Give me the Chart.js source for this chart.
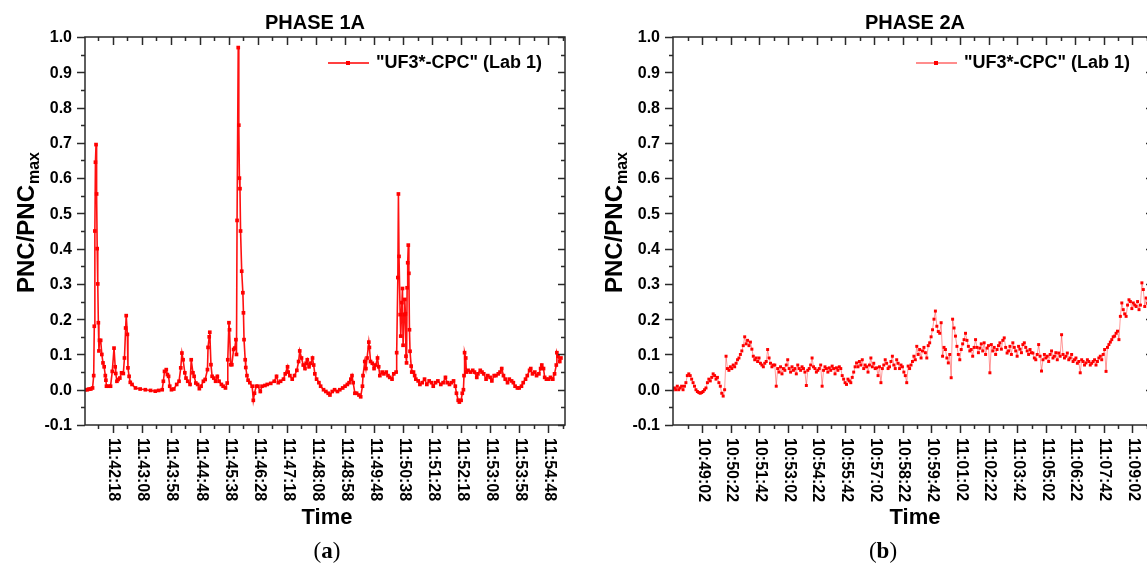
<!DOCTYPE html>
<html>
<head>
<meta charset="utf-8">
<script src="https://cdn.jsdelivr.net/npm/chart.js@4.4.1/dist/chart.umd.min.js"></script>
<style>
  html, body { margin: 0; padding: 0; background: #fff; overflow: hidden; width: 1147px; height: 566px; }
  canvas { position: absolute; top: 0; }
  #phase1 { left: 0; }
  #phase2 { left: 588px; }
  .cap { position: absolute; top: 538px; width: 60px; text-align: center; line-height: 26px;
         font-family: "Liberation Serif", "DejaVu Serif", serif; font-size: 23px; color: #000; }
</style>
</head>
<body>
<canvas id="phase1" width="580" height="566"></canvas>
<canvas id="phase2" width="580" height="566"></canvas>
<div class="cap" style="left:297px">(<b>a</b>)</div>
<div class="cap" style="left:853px">(<b>b</b>)</div>
<script>
// y axis, shared by both panels
const yTickValues = [-0.1, 0.0, 0.1, 0.2, 0.3, 0.4, 0.5, 0.6, 0.7, 0.8, 0.9, 1.0];
const yTickLabels = ['-0.1', '0.0', '0.1', '0.2', '0.3', '0.4', '0.5', '0.6', '0.7', '0.8', '0.9', '1.0'];

// PHASE 1A: seconds after leftStart, and normalised PNC
const leftStart = '11:41:30';
const leftEnd = '11:55:17';
const leftTicks = ['11:42:18', '11:43:08', '11:43:58', '11:44:48', '11:45:38', '11:46:28', '11:47:18', '11:48:08',
  '11:48:58', '11:49:48', '11:50:38', '11:51:28', '11:52:18', '11:53:08', '11:53:58', '11:54:48'];
const leftTime = [
  1, 4, 7, 10, 13, 15, 16, 17, 18, 19,
  20, 21, 22, 23, 24, 25, 27, 29, 31, 33,
  35, 36, 37, 40, 44, 47, 50, 52, 53, 55,
  57, 60, 63, 66, 68, 70, 71, 73, 74, 76,
  78, 81, 87, 95, 104, 113, 121, 127, 133, 135,
  137, 140, 142, 144, 146, 149, 153, 158, 162, 165,
  167, 169, 172, 174, 177, 181, 183, 186, 188, 191,
  194, 197, 200, 204, 207, 211, 212, 214, 215, 217,
  219, 222, 225, 228, 231, 235, 238, 242, 245, 246,
  248, 249, 251, 253, 256, 258, 260, 261, 262, 264,
  265, 266, 267, 268, 270, 272, 273, 274, 276, 277,
  279, 281, 284, 288, 290, 292, 295, 298, 302, 305,
  310, 314, 320, 326, 330, 333, 337, 342, 345, 349,
  350, 353, 357, 361, 365, 368, 370, 373, 376, 379,
  381, 383, 386, 389, 392, 394, 396, 399, 403, 406,
  411, 415, 419, 422, 426, 430, 435, 439, 444, 448,
  452, 455, 458, 460, 462, 465, 468, 472, 475, 478,
  479, 482, 484, 486, 489, 490, 492, 495, 498, 501,
  504, 506, 508, 512, 515, 519, 522, 525, 529, 532,
  536, 537, 539, 540, 541, 543, 544, 546, 547, 548,
  550, 551, 552, 553, 554, 555, 556, 557, 558, 559,
  560, 562, 563, 566, 568, 570, 574, 577, 581, 585,
  589, 593, 597, 600, 604, 608, 613, 617, 621, 624,
  628, 631, 635, 638, 640, 643, 645, 648, 650, 652,
  653, 654, 656, 657, 660, 664, 668, 671, 675, 677,
  681, 684, 687, 691, 694, 698, 701, 705, 708, 712,
  715, 718, 721, 724, 728, 731, 735, 738, 741, 745,
  748, 752, 755, 759, 762, 766, 768, 771, 775, 778,
  782, 785, 787, 790, 792, 795, 799, 802, 806, 809,
  812, 813, 815, 818, 820
];
const leftPnc = [
  0, 0, 0.002, 0.002, 0.005, 0.04, 0.18, 0.45, 0.645, 0.695,
  0.555, 0.40, 0.30, 0.19, 0.11, 0.14, 0.14, 0.10, 0.076, 0.065,
  0.04, 0.027, 0.01, 0.01, 0.01, 0.052, 0.118, 0.065, 0.046, 0.024,
  0.029, 0.033, 0.048, 0.046, 0.09, 0.175, 0.21, 0.157, 0.062, 0.038,
  0.021, 0.015, 0.005, 0.002, 0, -0.002, -0.004, -0.002, 0, 0.024,
  0.052, 0.057, 0.043, 0.038, 0.01, 0, 0.002, 0.015, 0.024, 0.062,
  0.104, 0.085, 0.048, 0.033, 0.024, 0.015, 0.085, 0.048, 0.038, 0.019,
  0.015, 0.003, 0.01, 0.024, 0.029, 0.057, 0.12, 0.15, 0.163, 0.071,
  0.038, 0.033, 0.024, 0.038, 0.024, 0.015, 0.01, 0.005, 0.019, 0.085,
  0.19, 0.17, 0.071, 0.071, 0.114, 0.118, 0.142, 0.10, 0.48, 0.97,
  0.75, 0.60, 0.57, 0.45, 0.336, 0.275, 0.218, 0.142, 0.085, 0.063,
  0.04, 0.027, 0.02, 0.01, -0.03, -0.01, 0.01, 0.01, -0.005, 0.01,
  0.012, 0.015, 0.018, 0.024, 0.038, 0.02, 0.024, 0.03, 0.045, 0.065,
  0.05, 0.04, 0.03, 0.04, 0.055, 0.08, 0.11, 0.09, 0.07, 0.06,
  0.075, 0.085, 0.065, 0.075, 0.09, 0.07, 0.045, 0.03, 0.02, 0.01,
  0, -0.005, -0.01, -0.015, -0.005, 0, -0.005, 0, 0.005, 0.01,
  0.015, 0.02, 0.03, 0.04, 0.02, -0.01, -0.01, -0.015, -0.02, 0.01,
  0.04, 0.08, 0.06, 0.09, 0.135, 0.12, 0.08, 0.075, 0.06, 0.07,
  0.09, 0.065, 0.04, 0.05, 0.045, 0.05, 0.04, 0.035, 0.03, 0.045,
  0.05, 0.105, 0.318, 0.555, 0.378, 0.213, 0.152, 0.247, 0.287, 0.126,
  0.213, 0.256, 0.215, 0.095, 0.076, 0.289, 0.36, 0.41, 0.33, 0.17,
  0.109, 0.067, 0.05, 0.05, 0.04, 0.03, 0.025, 0.015, 0.02, 0.03,
  0.015, 0.025, 0.02, 0.01, 0.02, 0.025, 0.015, 0.02, 0.035, 0.02,
  0.015, 0.02, 0.025, 0.01, -0.01, -0.03, -0.035, -0.03, -0.01, 0,
  0.04, 0.105, 0.09, 0.05, 0.055, 0.05, 0.055, 0.05, 0.035, 0.045,
  0.055, 0.05, 0.045, 0.03, 0.04, 0.035, 0.025, 0.04, 0.04, 0.045,
  0.05, 0.06, 0.04, 0.03, 0.02, 0.03, 0.025, 0.02, 0.01, 0.005,
  0.005, 0.01, 0.02, 0.03, 0.04, 0.055, 0.06, 0.045, 0.05, 0.04,
  0.045, 0.06, 0.07, 0.06, 0.035, 0.03, 0.03, 0.035, 0.03, 0.045,
  0.07, 0.105, 0.095, 0.08, 0.09
];

// PHASE 2A: one reading every rightStep seconds from rightStart
const rightStart = '10:47:41';
const rightEnd = '11:10:00';
const rightStep = 4;
const rightTicks = ['10:49:02', '10:50:22', '10:51:42', '10:53:02', '10:54:22', '10:55:42', '10:57:02', '10:58:22',
  '10:59:42', '11:01:02', '11:02:22', '11:03:42', '11:05:02', '11:06:22', '11:07:42', '11:09:02'];
const rightPnc = [
  0.0, 0.005, 0.0, 0.01, 0.0, 0.005, 0.01, 0.0, 0.01, 0.02, 0.04,
  0.045, 0.04, 0.03, 0.02, 0.01,
  0.0, -0.005, -0.008, -0.01, -0.008, -0.005, 0.0, 0.005,
  0.02, 0.03, 0.025, 0.035, 0.045, 0.04, 0.03, 0.035, 0.02, 0.01,
  -0.01, -0.018, 0.0,
  0.095, 0.06, 0.055, 0.065, 0.06, 0.07, 0.065, 0.075, 0.085,
  0.09, 0.1, 0.11, 0.125, 0.15, 0.13, 0.14, 0.125, 0.135, 0.115,
  0.095, 0.085, 0.09, 0.08, 0.09, 0.075, 0.07, 0.065, 0.075, 0.08, 0.114, 0.09, 0.075, 0.065, 0.07,
  0.07, 0.01, 0.06, 0.05, 0.065, 0.045, 0.06, 0.055, 0.07, 0.085,
  0.06, 0.05, 0.065, 0.055, 0.06, 0.045, 0.07, 0.06, 0.055, 0.065,
  0.06, 0.05, 0.012, 0.055, 0.06, 0.07, 0.09, 0.065, 0.06, 0.05,
  0.055, 0.06, 0.07, 0.01, 0.055,
  0.065, 0.06, 0.05, 0.062, 0.055, 0.067, 0.06, 0.045, 0.062, 0.055,
  0.065, 0.06, 0.04, 0.03, 0.02, 0.015, 0.03, 0.025, 0.02, 0.035, 0.05, 0.065,
  0.076, 0.065, 0.08, 0.07, 0.085, 0.06, 0.07, 0.065, 0.05, 0.07,
  0.09, 0.065, 0.075, 0.06, 0.062, 0.04, 0.065, 0.02, 0.06, 0.07,
  0.085, 0.075, 0.06, 0.065, 0.08, 0.095, 0.07, 0.06, 0.085, 0.075, 0.06, 0.07,
  0.065, 0.05, 0.04, 0.02, 0.067, 0.06, 0.07, 0.08, 0.095, 0.085,
  0.123, 0.1, 0.114, 0.09, 0.11, 0.12, 0.105, 0.09, 0.125, 0.133,
  0.15, 0.17, 0.2, 0.223, 0.18, 0.165, 0.16, 0.19, 0.095, 0.12, 0.114, 0.09, 0.076, 0.1, 0.034,
  0.2, 0.175, 0.152, 0.123, 0.1, 0.085, 0.114, 0.13, 0.142, 0.16, 0.14, 0.123, 0.11, 0.114, 0.095, 0.12,
  0.142, 0.12, 0.105, 0.118, 0.13, 0.11, 0.133, 0.1, 0.118, 0.125,
  0.048, 0.128, 0.11, 0.12, 0.1, 0.114, 0.125, 0.133, 0.115, 0.14,
  0.147, 0.12, 0.104, 0.11, 0.123, 0.1, 0.133, 0.12, 0.11, 0.095,
  0.123, 0.115, 0.105, 0.128, 0.133, 0.12, 0.11, 0.1, 0.114, 0.105,
  0.104, 0.09, 0.085, 0.1, 0.128, 0.095, 0.053, 0.085, 0.1, 0.09,
  0.095, 0.08, 0.1, 0.11, 0.09, 0.095, 0.105, 0.085, 0.104, 0.095,
  0.156, 0.1, 0.09, 0.095, 0.104, 0.085, 0.09, 0.1, 0.08, 0.085,
  0.09, 0.075, 0.08, 0.048, 0.085, 0.08, 0.07, 0.076, 0.085, 0.08,
  0.07, 0.075, 0.08, 0.085, 0.07, 0.08, 0.09, 0.095, 0.085, 0.1,
  0.114, 0.052, 0.12, 0.128, 0.135, 0.142, 0.15, 0.152, 0.16, 0.166, 0.142, 0.208,
  0.246, 0.227, 0.215, 0.208, 0.24, 0.255, 0.25, 0.23, 0.246, 0.24,
  0.236, 0.25, 0.227, 0.24, 0.303, 0.284, 0.236, 0.26, 0.245, 0.236, 0.25
];
const rightTime = rightPnc.map((v, i) => i * rightStep);

const FONT = '"Liberation Sans", Arial, sans-serif';

function toSec(s) {
  const [h, m, sec] = s.split(':').map(Number);
  return h * 3600 + m * 60 + sec;
}

function toPoints(start, times, values) {
  const t0 = toSec(start);
  return times.map((t, i) => ({ x: t0 + t, y: values[i] }));
}

// frame with inward/outward ticks, tick labels, titles and the legend
const axisBox = {
  id: 'axisBox',
  afterDraw(chart, args, opts) {
    const { ctx, chartArea: a, scales: { x, y } } = chart;
    ctx.save();
    ctx.strokeStyle = '#2a2a2a';
    ctx.lineWidth = 1.5;
    ctx.strokeRect(a.left, a.top, a.right - a.left, a.bottom - a.top);

    ctx.beginPath();
    yTickValues.forEach((v, i) => {
      const py = Math.round(y.getPixelForValue(v)) + 0.5;
      ctx.moveTo(a.left - 8, py); ctx.lineTo(a.left, py);
      ctx.moveTo(a.right, py); ctx.lineTo(a.right - 7, py);
      if (i > 0) {
        const pm = Math.round(y.getPixelForValue(v - 0.05)) + 0.5;
        ctx.moveTo(a.left - 4, pm); ctx.lineTo(a.left, pm);
        ctx.moveTo(a.right, pm); ctx.lineTo(a.right - 4, pm);
      }
    });
    const majors = opts.ticks.map(toSec);
    const step = majors[1] - majors[0];
    majors.forEach(t => {
      const px = Math.round(x.getPixelForValue(t)) + 0.5;
      ctx.moveTo(px, a.bottom); ctx.lineTo(px, a.bottom + 8);
      ctx.moveTo(px, a.top); ctx.lineTo(px, a.top + 8);
    });
    for (let t = majors[0] - step / 2; t < x.max; t += step) {
      if (t <= x.min) continue;
      const px = Math.round(x.getPixelForValue(t)) + 0.5;
      ctx.moveTo(px, a.bottom); ctx.lineTo(px, a.bottom + 4);
      ctx.moveTo(px, a.top); ctx.lineTo(px, a.top + 4);
    }
    ctx.stroke();

    ctx.fillStyle = '#000';
    ctx.font = 'bold 16px ' + FONT;
    ctx.textAlign = 'right';
    ctx.textBaseline = 'middle';
    yTickValues.forEach((v, i) => ctx.fillText(yTickLabels[i], a.left - 13, y.getPixelForValue(v) + 1));

    ctx.textAlign = 'left';
    opts.ticks.forEach(lbl => {
      ctx.save();
      ctx.translate(x.getPixelForValue(toSec(lbl)) + 1, a.bottom + 13);
      ctx.rotate(Math.PI / 2);
      ctx.fillText(lbl, 0, 0);
      ctx.restore();
    });

    // panel title
    ctx.textAlign = 'center';
    ctx.font = 'bold 20px ' + FONT;
    ctx.fillText(opts.title, opts.titleX, 23);

    // x axis title
    ctx.font = 'bold 22px ' + FONT;
    ctx.fillText('Time', (a.left + a.right) / 2 + 2, 518);

    // y axis title with subscript
    ctx.save();
    ctx.translate(27, 223);
    ctx.rotate(-Math.PI / 2);
    ctx.textAlign = 'left';
    ctx.font = 'bold 24px ' + FONT;
    const main = 'PNC/PNC';
    const w1 = ctx.measureText(main).width;
    ctx.font = 'bold 16px ' + FONT;
    const w2 = ctx.measureText('max').width;
    const x0 = -(w1 + w2) / 2;
    ctx.font = 'bold 24px ' + FONT;
    ctx.fillText(main, x0, 0);
    ctx.font = 'bold 16px ' + FONT;
    ctx.fillText('max', x0 + w1 + 1, 8);
    ctx.restore();

    // legend inside the plot
    const ly = 63;
    ctx.strokeStyle = opts.legendLine;
    ctx.lineWidth = 1.5;
    ctx.beginPath();
    ctx.moveTo(a.left + 243, ly); ctx.lineTo(a.left + 284, ly);
    ctx.stroke();
    ctx.fillStyle = '#ff0000';
    ctx.fillRect(a.left + 261, ly - 2, 4, 4);
    ctx.fillStyle = '#000';
    ctx.textAlign = 'left';
    ctx.font = 'bold 18px ' + FONT;
    ctx.fillText(opts.legend, a.left + 291, ly);
    ctx.restore();
  }
};

function makeChart(id, start, end, times, values, style, deco) {
  return new Chart(document.getElementById(id), {
    type: 'line',
    data: {
      datasets: [{
        label: deco.legend,
        data: toPoints(start, times, values),
        borderColor: style.line,
        borderWidth: style.width,
        pointStyle: 'rect',
        pointRadius: style.radius,
        pointBackgroundColor: '#ff0000',
        pointBorderWidth: 0,
        tension: 0
      }]
    },
    options: {
      responsive: false,
      animation: false,
      devicePixelRatio: 1,
      layout: { padding: { left: 85, right: 15, top: 37, bottom: 141 } },
      scales: {
        x: { type: 'linear', display: false, min: toSec(start), max: toSec(end) },
        y: { display: false, min: -0.1, max: 1.0 }
      },
      plugins: { legend: { display: false }, tooltip: { enabled: false }, axisBox: deco }
    },
    plugins: [axisBox]
  });
}

makeChart('phase1', leftStart, leftEnd, leftTime, leftPnc,
  { line: '#ff1010', width: 1.6, radius: 2.6 },
  { title: 'PHASE 1A', titleX: 315, ticks: leftTicks, legend: '"UF3*-CPC" (Lab 1)', legendLine: '#ff0000' });

makeChart('phase2', rightStart, rightEnd, rightTime, rightPnc,
  { line: 'rgba(255, 0, 0, 0.4)', width: 1, radius: 2.1 },
  { title: 'PHASE 2A', titleX: 327, ticks: rightTicks, legend: '"UF3*-CPC" (Lab 1)', legendLine: 'rgba(255, 0, 0, 0.6)' });
</script>
</body>
</html>
